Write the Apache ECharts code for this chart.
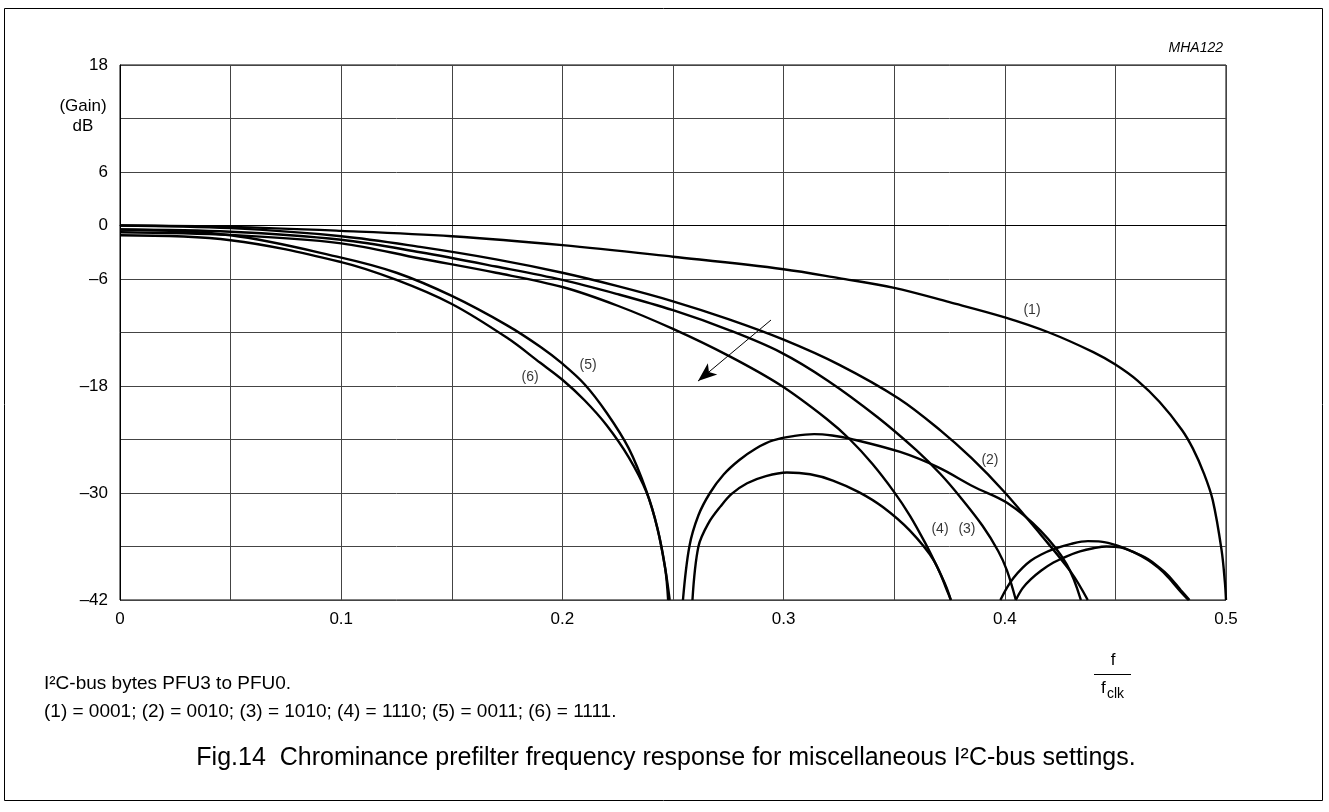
<!DOCTYPE html>
<html>
<head>
<meta charset="utf-8">
<script src="https://cdn.jsdelivr.net/npm/echarts@6/dist/echarts.min.js"></script>
<style>
html,body{margin:0;padding:0;background:#fff;}
#chart{width:1329px;height:812px;}
</style>
</head>
<body>
<div id="chart"></div>
<script>
// ---- data (x = f/fclk, y = gain in dB) ----
const xTicks = [0, 0.1, 0.2, 0.3, 0.4, 0.5];
const yTickLabels = [18, 6, 0, -6, -18, -30, -42];

const curve1 = [[0,0],[0.05,-0.15],[0.1,-0.6],[0.15,-1.2],[0.2,-2.2],[0.25,-3.5],[0.3,-4.9],[0.325,-5.9],[0.35,-7.0],[0.375,-8.6],[0.4,-10.3],[0.42,-12.0],[0.44,-14.2],[0.45,-15.6],[0.46,-17.4],[0.47,-19.8],[0.48,-22.9],[0.485,-25],[0.49,-27.8],[0.494,-30.8],[0.498,-36.4],[0.4995,-40],[0.5,-42]];
const curve2 = [[0,0],[0.05,-0.3],[0.1,-1.2],[0.1357,-2.4],[0.17,-3.8],[0.2,-5.3],[0.225,-6.8],[0.25,-8.5],[0.275,-10.5],[0.3,-12.8],[0.325,-15.6],[0.352,-19.4],[0.371,-23.0],[0.385,-26.1],[0.3995,-29.8],[0.416,-34.6],[0.43,-38.9],[0.4375,-42]];
const curve3 = [[0,-0.45],[0.05,-0.7],[0.1,-1.6],[0.1357,-3.0],[0.17,-4.6],[0.2,-6.1],[0.225,-7.7],[0.25,-9.5],[0.275,-11.7],[0.2985,-14.2],[0.32,-17.4],[0.3425,-21.5],[0.36,-25.2],[0.371,-27.9],[0.38,-30.5],[0.39,-33.7],[0.397,-36.5],[0.401,-38.7],[0.405,-42]];
const curve3b = [[0.405,-42],[0.408,-40.7],[0.4117,-39.7],[0.4165,-38.7],[0.422,-37.8],[0.428,-37.1],[0.434,-36.55],[0.44,-36.2],[0.446,-36.0],[0.452,-36.1],[0.458,-36.6],[0.4647,-37.4],[0.4695,-38.3],[0.4737,-39.2],[0.4796,-40.9],[0.4835,-42]];
const curve4 = [[0,-0.75],[0.05,-1.05],[0.1,-2.0],[0.1357,-3.7],[0.17,-5.3],[0.2,-6.9],[0.225,-9.0],[0.25,-11.6],[0.275,-14.6],[0.2985,-17.9],[0.3195,-21.7],[0.33,-24.0],[0.34,-26.7],[0.35,-29.9],[0.357,-32.5],[0.364,-35.6],[0.37,-38.6],[0.3735,-40.5],[0.3756,-42]];
const curve4b = [[0.398,-42],[0.401,-40.6],[0.404,-39.5],[0.408,-38.4],[0.4117,-37.6],[0.4165,-36.9],[0.422,-36.3],[0.43,-35.7],[0.4376,-35.4],[0.4434,-35.45],[0.451,-35.9],[0.458,-36.6],[0.4647,-37.5],[0.4695,-38.4],[0.4737,-39.4],[0.4796,-41.1],[0.483,-42]];
const curve5 = [[0,-0.45],[0.05,-1.1],[0.1,-3.6],[0.125,-5.3],[0.15,-7.9],[0.175,-11.2],[0.19,-13.6],[0.2,-15.5],[0.21,-17.8],[0.22,-21.0],[0.23,-25.0],[0.238,-29.8],[0.243,-34],[0.2465,-38.5],[0.2485,-42]];
const curve5b = [[0.2545,-42],[0.2574,-36],[0.2615,-32.5],[0.2667,-30],[0.273,-27.9],[0.28,-26.3],[0.2875,-25.0],[0.2952,-24.1],[0.305,-23.6],[0.3138,-23.4],[0.322,-23.55],[0.33,-23.9],[0.3527,-25.4],[0.3697,-27.1],[0.386,-29.3],[0.401,-31.1],[0.416,-34.2],[0.428,-38],[0.4344,-42]];
const curve6 = [[0,-1.1],[0.05,-1.65],[0.1,-4.1],[0.125,-6.1],[0.15,-8.8],[0.175,-12.6],[0.19,-15.4],[0.2,-17.3],[0.21,-19.6],[0.22,-22.4],[0.23,-26.0],[0.238,-29.9],[0.243,-34],[0.2465,-38.5],[0.2478,-42]];
const curve6b = [[0.2588,-42],[0.2615,-36],[0.266,-33.4],[0.2715,-31.5],[0.2765,-30.1],[0.2835,-28.9],[0.292,-28.1],[0.3015,-27.7],[0.312,-27.9],[0.3223,-28.6],[0.334,-29.9],[0.345,-31.6],[0.357,-34.2],[0.368,-37.6],[0.3745,-41.3],[0.3756,-42]];

const curveNames = ['(1)','(2)','(3)','(4)','(5)','(6)'];
const curveLabelAt = [[0.4123,-9.5],[0.3933,-26.3],[0.3829,-34.0],[0.3707,-34.0],[0.2116,-15.7],[0.1854,-17.0]];
const arrowFrom = [0.2943,-10.6];
const arrowTo = [0.2613,-17.45];

const segments = [curve1, curve2, curve3, curve3b, curve4, curve4b, curve5, curve5b, curve6, curve6b];

const chart = echarts.init(document.getElementById('chart'), null, {renderer:'canvas'});
const FONT = '"Liberation Sans", Arial, sans-serif';

const series = segments.map(function (d) {
  return {
    type: 'line', data: d, smooth: 0.35, showSymbol: false, symbol: 'none',
    lineStyle: {color: '#000', width: 2.4}, animation: false, silent: true, clip: true
  };
});
series.push({
  type: 'scatter', symbolSize: 0, animation: false, silent: true,
  data: curveNames.map(function (n, i) { return {name: n, value: curveLabelAt[i]}; }),
  label: {show: true, position: 'inside', formatter: '{b}', color: '#000', fontSize: 14, fontFamily: FONT}
});
series.push({
  type: 'line', data: [], animation: false, silent: true,
  markLine: {
    silent: true, animation: false, symbol: ['none', 'arrow'], symbolSize: [11, 19],
    label: {show: false},
    lineStyle: {color: '#000', width: 1, type: 'solid'},
    data: [[{coord: arrowFrom}, {coord: arrowTo}]]
  }
});

const option = {
  backgroundColor: '#fff',
  animation: false,
  grid: {left: 120, right: 103, top: 65, bottom: 212, show: true, borderColor: '#000', borderWidth: 1, backgroundColor: 'transparent'},
  xAxis: {
    type: 'value', min: 0, max: 0.5, interval: 0.05,
    axisLine: {show: true, lineStyle: {color: '#000', width: 1}},
    axisTick: {show: false},
    splitLine: {show: true, lineStyle: {color: '#444', width: 1}},
    axisLabel: {
      color: '#000', fontSize: 17, fontFamily: FONT, margin: 11,
      formatter: function (v) {
        for (let i = 0; i < xTicks.length; i++) {
          if (Math.abs(v - xTicks[i]) < 1e-6) return xTicks[i] === 0 ? '0' : xTicks[i].toFixed(1);
        }
        return '';
      }
    }
  },
  yAxis: {
    type: 'value', min: -42, max: 18, interval: 6,
    axisLine: {show: true, lineStyle: {color: '#000', width: 1}},
    axisTick: {show: false},
    splitLine: {show: true, lineStyle: {color: '#444', width: 1}},
    axisLabel: {
      color: '#000', fontSize: 17, fontFamily: FONT, margin: 12,
      formatter: function (v) {
        const r = Math.round(v);
        if (yTickLabels.indexOf(r) < 0) return '';
        return r < 0 ? '\u2013' + Math.abs(r) : String(r);
      }
    }
  },
  series: series,
  graphic: [
    {type: 'rect', shape: {x: 4.5, y: 8.5, width: 1318, height: 792}, style: {fill: 'none', stroke: '#000', lineWidth: 1}, silent: true, z: -1},
    {type: 'text', x: 83, y: 106, style: {text: '(Gain)', font: '17px ' + FONT, fill: '#000', textAlign: 'center', textVerticalAlign: 'middle'}},
    {type: 'text', x: 83, y: 126, style: {text: 'dB', font: '17px ' + FONT, fill: '#000', textAlign: 'center', textVerticalAlign: 'middle'}},
    {type: 'text', x: 1223, y: 48, style: {text: 'MHA122', font: 'italic 14px ' + FONT, fill: '#000', textAlign: 'right', textVerticalAlign: 'middle'}},
    {type: 'text', x: 1113, y: 660, style: {text: 'f', font: '17px ' + FONT, fill: '#000', textAlign: 'center', textVerticalAlign: 'middle'}},
    {type: 'line', shape: {x1: 1094, y1: 674.5, x2: 1131, y2: 674.5}, style: {stroke: '#000', lineWidth: 1}},
    {type: 'text', x: 1101, y: 688, style: {text: 'f', font: '17px ' + FONT, fill: '#000', textAlign: 'left', textVerticalAlign: 'middle'}},
    {type: 'text', x: 1107, y: 694, style: {text: 'clk', font: '14px ' + FONT, fill: '#000', textAlign: 'left', textVerticalAlign: 'middle'}},
    {type: 'text', x: 44, y: 684, style: {text: 'I\u00B2C-bus bytes PFU3 to PFU0.', font: '19px ' + FONT, fill: '#000', textAlign: 'left', textVerticalAlign: 'middle'}},
    {type: 'text', x: 44, y: 712, style: {text: '(1) = 0001; (2) = 0010; (3) = 1010; (4) = 1110; (5) = 0011; (6) = 1111.', font: '19px ' + FONT, fill: '#000', textAlign: 'left', textVerticalAlign: 'middle'}},
    {type: 'text', x: 666, y: 758, style: {text: 'Fig.14  Chrominance prefilter frequency response for miscellaneous I\u00B2C-bus settings.', font: '25px ' + FONT, fill: '#000', textAlign: 'center', textVerticalAlign: 'middle'}}
  ]
};
chart.setOption(option);
</script>
</body>
</html>
